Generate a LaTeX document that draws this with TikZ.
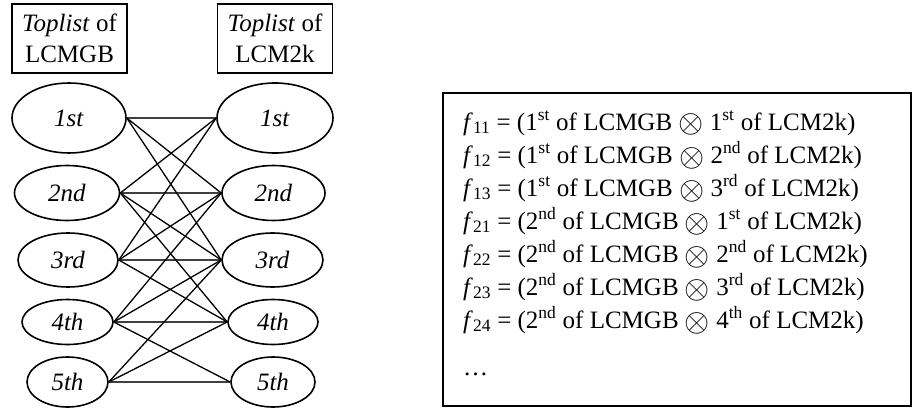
\documentclass[tikz,border=0pt]{standalone}
\usepackage{fontspec}
\setmainfont{Liberation Serif}
\usetikzlibrary{shapes.geometric}
\newcommand{\bigotimesym}{\raisebox{-0.12em}{\scalebox{1.3}{$\otimes$}}}
\begin{document}
\begin{tikzpicture}[x=1pt,y=-1pt,
  every node/.style={font=\fontsize{25}{31}\selectfont},
  titlebox/.style={draw,line width=1.8pt,rectangle,minimum width=115pt,minimum height=69pt,inner sep=0pt,align=center},
  ell/.style={draw,ellipse,line width=1.6pt,inner sep=0pt},
  conn/.style={line width=1.3pt},
  hconn/.style={line width=1.1pt,black!75},
  ftext/.style={anchor=base west,inner sep=0pt,font=\fontsize{25}{31}\selectfont}]
\useasboundingbox (0,0) rectangle (912,409);
% title boxes
\node[titlebox] (TL) at (69.5,38.5) {\textit{Toplist} of\\LCMGB};
\node[titlebox] (TR) at (275,38.5) {\textit{Toplist} of\\LCM2k};
% left ellipses
\node[ell,minimum width=114pt,minimum height=70pt] (L1) at (69,118) {\textit{1st}};
\node[ell,minimum width=105pt,minimum height=55pt] (L2) at (67,193) {\textit{2nd}};
\node[ell,minimum width=100pt,minimum height=54pt] (L3) at (68,260) {\textit{3rd}};
\node[ell,minimum width=91pt,minimum height=45pt] (L4) at (67.5,322) {\textit{4th}};
\node[ell,minimum width=81pt,minimum height=50pt] (L5) at (67.5,382) {\textit{5th}};
% right ellipses
\node[ell,minimum width=116pt,minimum height=70pt] (R1) at (275,118) {\textit{1st}};
\node[ell,minimum width=103pt,minimum height=55pt] (R2) at (273.5,193) {\textit{2nd}};
\node[ell,minimum width=101pt,minimum height=54pt] (R3) at (272.5,260) {\textit{3rd}};
\node[ell,minimum width=90pt,minimum height=45pt] (R4) at (273,322) {\textit{4th}};
\node[ell,minimum width=84pt,minimum height=50pt] (R5) at (273,382) {\textit{5th}};
% horizontal connectors
\foreach \i in {1,...,5} \draw[hconn] (L\i.east) -- (R\i.west);
% diagonal connectors
\foreach \a/\b in {1/2,1/3,2/1,2/3,2/4,3/1,3/2,3/4,4/2,4/3,4/5,5/3,5/4}
  \draw[conn] (L\a.east) -- (R\b.west);
% result box
\draw[line width=2pt] (443,93) rectangle (910.5,406);
\node[ftext] (F11) at (463,130) {\textit{f}\textsubscript{11} = (1\textsuperscript{st} of LCMGB \bigotimesym{} 1\textsuperscript{st} of LCM2k)};
\node[ftext] (F12) at (463,163) {\textit{f}\textsubscript{12} = (1\textsuperscript{st} of LCMGB \bigotimesym{} 2\textsuperscript{nd} of LCM2k)};
\node[ftext] (F13) at (463,196) {\textit{f}\textsubscript{13} = (1\textsuperscript{st} of LCMGB \bigotimesym{} 3\textsuperscript{rd} of LCM2k)};
\node[ftext] (F21) at (463,229) {\textit{f}\textsubscript{21} = (2\textsuperscript{nd} of LCMGB \bigotimesym{} 1\textsuperscript{st} of LCM2k)};
\node[ftext] (F22) at (463,262) {\textit{f}\textsubscript{22} = (2\textsuperscript{nd} of LCMGB \bigotimesym{} 2\textsuperscript{nd} of LCM2k)};
\node[ftext] (F23) at (463,295) {\textit{f}\textsubscript{23} = (2\textsuperscript{nd} of LCMGB \bigotimesym{} 3\textsuperscript{rd} of LCM2k)};
\node[ftext] (F24) at (463,328) {\textit{f}\textsubscript{24} = (2\textsuperscript{nd} of LCMGB \bigotimesym{} 4\textsuperscript{th} of LCM2k)};
\node[ftext] (DOTS) at (463,375) {…};
\end{tikzpicture}
\end{document}
